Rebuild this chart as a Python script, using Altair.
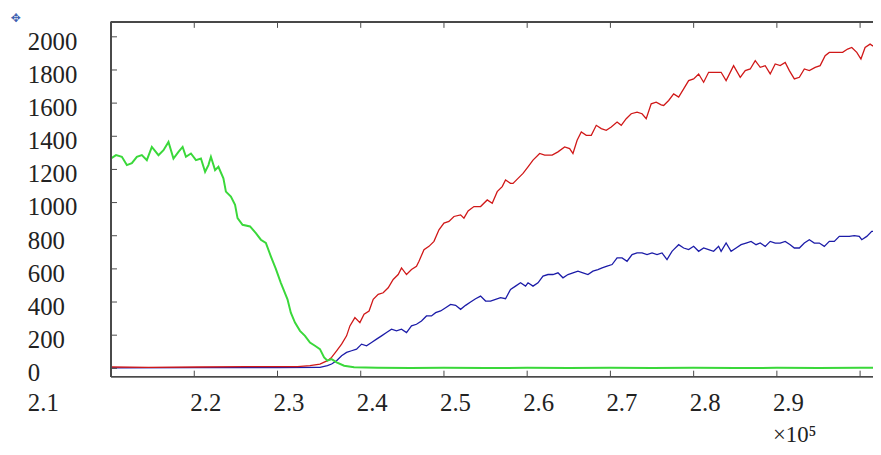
import altair as alt
import pandas as pd

# ---- data (x in units of 1e5) ----
green_x = [2.100, 2.106, 2.113, 2.119, 2.125, 2.131, 2.137, 2.143, 2.149, 2.157, 2.163, 2.169, 2.175, 2.181,
           2.186, 2.190, 2.196, 2.202, 2.208, 2.213, 2.217, 2.220, 2.225, 2.229, 2.235, 2.238, 2.244, 2.249,
           2.252, 2.258, 2.267, 2.274, 2.280, 2.286, 2.292, 2.298, 2.304, 2.312, 2.316, 2.321, 2.327, 2.333,
           2.339, 2.345, 2.351, 2.356, 2.360, 2.365, 2.371, 2.380, 2.392, 2.420, 2.460, 2.500, 2.550, 2.600,
           2.650, 2.700, 2.750, 2.800, 2.850, 2.900, 2.950, 3.000, 3.040]
green_y = [1266, 1286, 1276, 1226, 1238, 1276, 1286, 1256, 1336, 1286, 1316, 1366, 1266, 1306,
           1336, 1276, 1296, 1256, 1266, 1186, 1226, 1276, 1196, 1216, 1146, 1066, 1036, 986,
           906, 866, 856, 816, 776, 756, 676, 600, 516, 416, 336, 276, 226, 196,
           156, 136, 116, 66, 46, 56, 36, 16, 6, 4, 2, 3, 2, 3,
           2, 3, 2, 3, 2, 3, 2, 3, 3]

red_x = [2.100, 2.145, 2.205, 2.264, 2.300, 2.324, 2.339, 2.351, 2.360, 2.365, 2.371, 2.377, 2.383, 2.387,
         2.393, 2.399, 2.404, 2.410, 2.415, 2.421, 2.427, 2.433, 2.439, 2.445, 2.449, 2.455, 2.461, 2.467,
         2.470, 2.476, 2.482, 2.488, 2.494, 2.500, 2.506, 2.512, 2.520, 2.524, 2.529, 2.536, 2.544, 2.552,
         2.558, 2.564, 2.570, 2.574, 2.580, 2.583, 2.589, 2.595, 2.601, 2.607, 2.615, 2.621, 2.630, 2.637,
         2.645, 2.651, 2.655, 2.660, 2.665, 2.671, 2.677, 2.683, 2.689, 2.695, 2.701, 2.708, 2.713, 2.719,
         2.725, 2.732, 2.738, 2.743, 2.749, 2.755, 2.761, 2.764, 2.770, 2.776, 2.782, 2.788, 2.794, 2.800,
         2.806, 2.812, 2.818, 2.826, 2.833, 2.839, 2.848, 2.856, 2.862, 2.868, 2.874, 2.880, 2.886, 2.892,
         2.898, 2.904, 2.910, 2.915, 2.921, 2.927, 2.933, 2.939, 2.946, 2.952, 2.958, 2.963, 2.970, 2.979,
         2.985, 2.990, 2.996, 3.001, 3.006, 3.012, 3.015, 3.040]
red_y = [8, 6, 8, 10, 10, 10, 16, 26, 46, 66, 106, 146, 196, 256,
         306, 276, 326, 346, 416, 446, 456, 486, 536, 566, 606, 566, 596, 616,
         646, 716, 736, 766, 836, 876, 886, 916, 926, 906, 950, 976, 976, 1016,
         996, 1066, 1096, 1136, 1116, 1116, 1146, 1176, 1216, 1256, 1296, 1286, 1286, 1306,
         1336, 1326, 1296, 1376, 1426, 1406, 1406, 1466, 1446, 1436, 1456, 1486, 1466, 1506,
         1536, 1546, 1536, 1506, 1596, 1606, 1590, 1586, 1616, 1656, 1636, 1686, 1736, 1746,
         1776, 1726, 1786, 1786, 1786, 1736, 1826, 1756, 1796, 1806, 1856, 1816, 1826, 1776,
         1836, 1826, 1846, 1796, 1746, 1756, 1806, 1796, 1816, 1826, 1886, 1906, 1906, 1906,
         1926, 1936, 1906, 1866, 1936, 1956, 1946, 1950]

blue_x = [2.100, 2.200, 2.300, 2.351, 2.360, 2.365, 2.371, 2.377, 2.383, 2.389, 2.395, 2.401, 2.407, 2.413,
          2.419, 2.425, 2.431, 2.437, 2.443, 2.449, 2.455, 2.461, 2.467, 2.473, 2.479, 2.485, 2.490, 2.496,
          2.502, 2.508, 2.514, 2.520, 2.526, 2.532, 2.538, 2.544, 2.550, 2.556, 2.562, 2.568, 2.574, 2.580,
          2.586, 2.592, 2.598, 2.601, 2.607, 2.613, 2.619, 2.625, 2.631, 2.637, 2.643, 2.649, 2.655, 2.661,
          2.667, 2.673, 2.679, 2.685, 2.690, 2.696, 2.702, 2.708, 2.714, 2.720, 2.726, 2.732, 2.738, 2.744,
          2.750, 2.756, 2.762, 2.768, 2.774, 2.776, 2.782, 2.788, 2.794, 2.800, 2.806, 2.812, 2.818, 2.824,
          2.830, 2.833, 2.839, 2.845, 2.851, 2.857, 2.863, 2.869, 2.875, 2.880, 2.886, 2.892, 2.898, 2.904,
          2.910, 2.916, 2.921, 2.927, 2.933, 2.939, 2.945, 2.951, 2.957, 2.963, 2.969, 2.975, 2.981, 2.987,
          2.993, 2.999, 3.002, 3.008, 3.014, 3.040]
blue_y = [3, 4, 5, 6, 16, 26, 46, 76, 96, 106, 116, 146, 136, 156,
          176, 196, 216, 236, 226, 236, 216, 256, 266, 286, 316, 316, 336, 346,
          366, 386, 380, 356, 380, 400, 420, 436, 406, 406, 416, 426, 420, 476,
          496, 516, 496, 516, 496, 516, 556, 566, 566, 576, 546, 566, 576, 586,
          576, 566, 586, 596, 606, 616, 626, 666, 666, 646, 686, 696, 696, 686,
          696, 686, 696, 656, 706, 716, 746, 726, 716, 736, 706, 726, 716, 706,
          736, 706, 756, 706, 726, 746, 756, 766, 746, 756, 736, 766, 756, 756,
          766, 746, 726, 726, 756, 776, 756, 756, 736, 766, 766, 796, 796, 796,
          800, 796, 776, 796, 826, 826]

x_ticks = [2.1, 2.2, 2.3, 2.4, 2.5, 2.6, 2.7, 2.8, 2.9, 3.0]
x_tick_labels = ["2.1", "2.2", "2.3", "2.4", "2.5", "2.6", "2.7", "2.8", "2.9", ""]
y_ticks = [0, 200, 400, 600, 800, 1000, 1200, 1400, 1600, 1800, 2000]
y_tick_labels = ["0", "200", "400", "600", "800", "1000", "1200", "1400", "1600", "1800", "2000"]
x_scale_note = ["×10⁵"]
x_domain = [2.1, 3.0155]
y_domain = [-50, 2090]

df = pd.concat([
    pd.DataFrame({"x": green_x, "y": green_y, "s": "green"}),
    pd.DataFrame({"x": red_x, "y": red_y, "s": "red"}),
    pd.DataFrame({"x": blue_x, "y": blue_y, "s": "blue"}),
])
xt_df = pd.DataFrame({"x": x_ticks, "t": x_tick_labels})
yt_df = pd.DataFrame({"y": y_ticks, "t": y_tick_labels})

W, H = 769, 358
FONT = "Liberation Serif, Times New Roman, DejaVu Serif, serif"
FRAME = "#4a4a4a"
TXT = "#222222"
TICK = 6

xs = alt.Scale(domain=x_domain, nice=False, zero=False)
ys = alt.Scale(domain=y_domain, nice=False, zero=False)
X = alt.X("x:Q", scale=xs, axis=None)
Y = alt.Y("y:Q", scale=ys, axis=None)

base = alt.Chart(df)
blue = base.transform_filter("datum.s == 'blue'").mark_line(color="#1c1ca8", strokeWidth=1.3, clip=True).encode(x=X, y=Y)
red = base.transform_filter("datum.s == 'red'").mark_line(color="#d01818", strokeWidth=1.3, clip=True).encode(x=X, y=Y)
green = base.transform_filter("datum.s == 'green'").mark_line(color="#3ad83a", strokeWidth=2, clip=True).encode(x=X, y=Y)

# frame lines
top_line = alt.Chart(xt_df).mark_rule(color=FRAME, strokeWidth=1).encode(
    x=alt.value(0), x2=alt.value(W), y=alt.value(0)
)
bottom_line = alt.Chart(xt_df).mark_rule(color=FRAME, strokeWidth=1).encode(
    x=alt.value(0), x2=alt.value(W), y=alt.value(H)
)
left_line = alt.Chart(yt_df).mark_rule(color=FRAME, strokeWidth=1).encode(
    x=alt.value(0), y=alt.value(0), y2=alt.value(H)
)
# inward ticks
top_ticks = alt.Chart(xt_df).mark_rule(color=FRAME, strokeWidth=1).encode(
    x=X, y=alt.value(0), y2=alt.value(TICK)
)
bottom_ticks = alt.Chart(xt_df).mark_rule(color=FRAME, strokeWidth=1).encode(
    x=X, y=alt.value(H - TICK), y2=alt.value(H)
)
left_ticks = alt.Chart(yt_df).mark_rule(color=FRAME, strokeWidth=1).encode(
    y=Y, x=alt.value(0), x2=alt.value(TICK)
)
# tick labels
y_labels = alt.Chart(yt_df).mark_text(
    font=FONT, fontSize=25, color=TXT, align="left", baseline="alphabetic", dx=-84, dy=13
).encode(y=Y, x=alt.value(0), text="t:N")
x_labels = alt.Chart(xt_df).transform_filter("datum.x > 2.15").mark_text(
    font=FONT, fontSize=25, color=TXT, align="left", baseline="alphabetic", dx=-4
).encode(x=X, y=alt.value(H + 35), text="t:N")
x_first_label = alt.Chart(xt_df).transform_filter("datum.x < 2.15").mark_text(
    font=FONT, fontSize=25, color=TXT, align="left", baseline="alphabetic", dx=-84
).encode(x=X, y=alt.value(H + 35), text="t:N")
note = alt.Chart(pd.DataFrame({"t": x_scale_note})).mark_text(
    font=FONT, fontSize=23, color=TXT, align="left", baseline="alphabetic"
).encode(x=alt.value(668), y=alt.value(H + 66), text="t:N")
icon = alt.Chart(pd.DataFrame({"t": ["✥"]})).mark_text(
    color="#4060b0", fontSize=12, font="DejaVu Sans", align="center", baseline="middle"
).encode(text="t:N", x=alt.value(-96), y=alt.value(-4))

chart = alt.layer(
    blue, red, green,
    top_line, bottom_line, left_line, top_ticks, bottom_ticks, left_ticks,
    y_labels, x_labels, x_first_label, note, icon,
).properties(
    width=W, height=H,
    autosize=alt.AutoSizeParams(type="none"),
    padding={"left": 104, "top": 12, "right": 0, "bottom": 69},
    background="white",
).configure_view(stroke=None)

chart.save("out.html", embed_options={"renderer": "svg", "actions": False})
